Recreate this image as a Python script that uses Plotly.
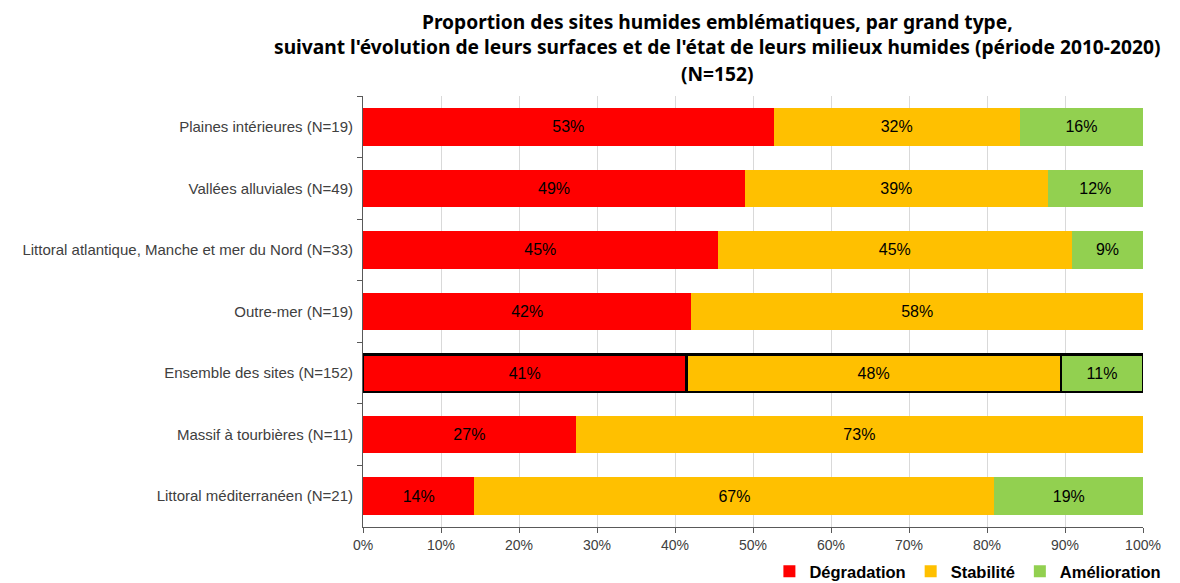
import plotly.graph_objects as go

# Sites humides emblématiques, part (%) par grand type, 2010-2020
categories = [
    "Plaines intérieures (N=19)",
    "Vallées alluviales (N=49)",
    "Littoral atlantique, Manche et mer du Nord (N=33)",
    "Outre-mer (N=19)",
    "Ensemble des sites (N=152)",
    "Massif à tourbières (N=11)",
    "Littoral méditerranéen (N=21)",
]
degradation = [52.63, 48.98, 45.45, 42.11, 41.45, 27.27, 14.29]
stabilite = [31.58, 38.78, 45.45, 57.89, 48.03, 72.73, 66.67]
amelioration = [15.79, 12.24, 9.09, 0.0, 10.53, 0.0, 19.05]

series = [
    ("Dégradation", degradation, "#FF0000"),
    ("Stabilité", stabilite, "#FFC000"),
    ("Amélioration", amelioration, "#92D050"),
]

title_lines = [
    "Proportion des sites humides emblématiques, par grand type,",
    "suivant l'évolution de leurs surfaces et de l'état de leurs milieux humides (période 2010-2020)",
    "(N=152)",
]

# outline only around the "Ensemble des sites" bar
outline = [2.5 if c.startswith("Ensemble") else 0 for c in categories]

fig = go.Figure()
for name, vals, color in series:
    fig.add_trace(go.Bar(
        y=categories,
        x=vals,
        name=name,
        orientation='h',
        width=0.61,
        marker=dict(color=color, line=dict(color='black', width=outline)),
        text=[f"{v:.0f}%" if v > 0 else "" for v in vals],
        textposition='inside',
        insidetextanchor='middle',
        textfont=dict(family='Liberation Sans, Arial', size=16, color='black'),
        hoverinfo='x+y+name',
    ))

# title lines placed one by one (paper coords above the plot area)
for line, ypos in zip(title_lines, [1.174, 1.114, 1.053]):
    fig.add_annotation(
        text=line, xref='paper', yref='paper',
        x=0.454, y=ypos, xanchor='center', yanchor='middle',
        showarrow=False, borderpad=0,
        font=dict(family='Noto Sans', size=19.2, color='black', weight='bold'),
    )

fig.update_layout(
    barmode='stack',
    width=1172,
    height=575,
    paper_bgcolor='white',
    plot_bgcolor='white',
    margin=dict(l=355, r=37, t=88, b=56),
    font=dict(family='Liberation Sans, Arial', size=14, color='#404040'),
    legend=dict(
        orientation='h',
        x=1.03, xanchor='right',
        yref='container',
        y=0.02, yanchor='middle',
        font=dict(family='Liberation Sans, Arial', size=16.5, color='black', weight='bold'),
        itemwidth=30,
        traceorder='normal',
    ),
    uniformtext=dict(mode='show', minsize=12),
)

fig.update_xaxes(
    range=[0, 100],
    dtick=10,
    ticksuffix='%',
    showgrid=True,
    gridcolor='#D9D9D9',
    gridwidth=1,
    showline=True,
    linecolor='#595959',
    ticks='outside',
    tickcolor='#595959',
    ticklen=5,
    zeroline=False,
    automargin=False,
    tickfont=dict(size=14, color='#404040'),
)
fig.update_yaxes(
    autorange='reversed',
    showline=True,
    linecolor='#595959',
    ticks='outside',
    tickson='boundaries',
    tickcolor='#595959',
    ticklen=5,
    automargin=False,
    tickfont=dict(size=15, color='#404040'),
    ticklabelstandoff=6,
)

fig.write_html("out.html")
